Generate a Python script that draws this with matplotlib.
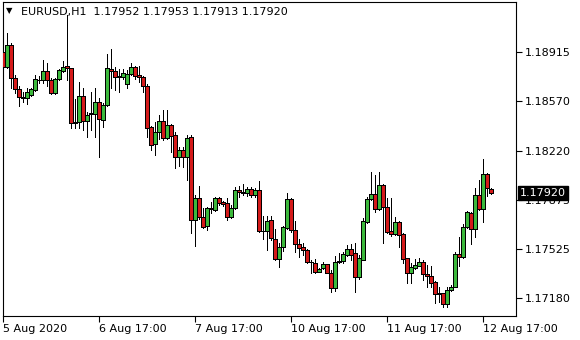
import matplotlib
matplotlib.use("Agg")
import matplotlib.pyplot as plt
import numpy as np

# EURUSD H1 candles, 5 Aug 17:00 -> 12 Aug 19:00
opens = [1.18915, 1.18809, 1.18964, 1.18732, 1.18654, 1.18598, 1.18591, 1.18612, 1.18647, 1.18721,
         1.18718, 1.18781, 1.18718, 1.18626, 1.18725, 1.18783, 1.18816, 1.18802, 1.18421, 1.18421,
         1.18605, 1.18429, 1.18485, 1.18478, 1.18563, 1.18436, 1.18541, 1.18795, 1.18781, 1.18746,
         1.18741, 1.18689, 1.18760, 1.18809, 1.18753, 1.18739, 1.18679, 1.18386, 1.18266, 1.18351,
         1.18429, 1.18309, 1.18400, 1.18330, 1.18175, 1.18224, 1.18173, 1.18314, 1.17731, 1.17886,
         1.17750, 1.17690, 1.17815, 1.17801, 1.17886, 1.17855, 1.17848, 1.17754, 1.17813, 1.17942,
         1.17926, 1.17923, 1.17949, 1.17907, 1.17942, 1.17655, 1.17655, 1.17731, 1.17594, 1.17456,
         1.17538, 1.17672, 1.17879, 1.17660, 1.17559, 1.17538, 1.17519, 1.17437, 1.17430, 1.17366,
         1.17390, 1.17418, 1.17359, 1.17249, 1.17444, 1.17444, 1.17484, 1.17524, 1.17496, 1.17331,
         1.17452, 1.17719, 1.17877, 1.17914, 1.17806, 1.17977, 1.17820, 1.17655, 1.17632, 1.17714,
         1.17630, 1.17461, 1.17359, 1.17390, 1.17408, 1.17432, 1.17350, 1.17338, 1.17291, 1.17214,
         1.17214, 1.17138, 1.17237, 1.17260, 1.17491, 1.17472, 1.17679, 1.17782, 1.17665, 1.17907,
         1.17806, 1.18055, 1.17952]
highs = [1.19000, 1.19049, 1.18978, 1.18753, 1.18675, 1.18633, 1.18661, 1.18661, 1.18753, 1.18746,
         1.18859, 1.18837, 1.18732, 1.18732, 1.18795, 1.18852, 1.19176, 1.18805, 1.18584, 1.18704,
         1.18661, 1.18492, 1.18633, 1.18661, 1.18591, 1.18555, 1.18901, 1.18936, 1.18809, 1.18795,
         1.18795, 1.18788, 1.18837, 1.18816, 1.18816, 1.18746, 1.18689, 1.18393, 1.18421, 1.18471,
         1.18506, 1.18506, 1.18407, 1.18351, 1.18245, 1.18247, 1.18330, 1.18330, 1.17907, 1.17970,
         1.17815, 1.17824, 1.17860, 1.17895, 1.17895, 1.17867, 1.17886, 1.17836, 1.17963, 1.17970,
         1.17984, 1.17963, 1.17963, 1.17956, 1.18006, 1.17759, 1.17759, 1.17759, 1.17665, 1.17566,
         1.17688, 1.17921, 1.17886, 1.17724, 1.17594, 1.17566, 1.17526, 1.17446, 1.17454, 1.17392,
         1.17432, 1.17420, 1.17378, 1.17477, 1.17500, 1.17505, 1.17554, 1.17561, 1.17566, 1.17484,
         1.17745, 1.17895, 1.18071, 1.18048, 1.18071, 1.17984, 1.17884, 1.17884, 1.17752, 1.17724,
         1.17639, 1.17463, 1.17427, 1.17456, 1.17463, 1.17449, 1.17413, 1.17406, 1.17298, 1.17260,
         1.17216, 1.17256, 1.17272, 1.17507, 1.17609, 1.17702, 1.17796, 1.17787, 1.17954, 1.18013,
         1.18158, 1.18059, 1.17953]
lows = [1.18704, 1.18802, 1.18661, 1.18626, 1.18534, 1.18562, 1.18548, 1.18605, 1.18640, 1.18696,
        1.18696, 1.18675, 1.18619, 1.18619, 1.18718, 1.18774, 1.18718, 1.18379, 1.18379, 1.18379,
        1.18365, 1.18316, 1.18365, 1.18316, 1.18175, 1.18386, 1.18534, 1.18661, 1.18647, 1.18633,
        1.18725, 1.18661, 1.18753, 1.18725, 1.18704, 1.18633, 1.18316, 1.18224, 1.18189, 1.18302,
        1.18295, 1.18302, 1.18210, 1.18097, 1.18111, 1.18104, 1.18013, 1.17641, 1.17549, 1.17738,
        1.17674, 1.17660, 1.17782, 1.17794, 1.17836, 1.17829, 1.17731, 1.17745, 1.17808, 1.17895,
        1.17907, 1.17900, 1.17895, 1.17895, 1.17648, 1.17594, 1.17519, 1.17590, 1.17449, 1.17401,
        1.17514, 1.17667, 1.17646, 1.17507, 1.17468, 1.17484, 1.17430, 1.17359, 1.17359, 1.17364,
        1.17385, 1.17357, 1.17225, 1.17232, 1.17427, 1.17427, 1.17480, 1.17449, 1.17225, 1.17312,
        1.17449, 1.17707, 1.17872, 1.17789, 1.17801, 1.17566, 1.17639, 1.17618, 1.17625, 1.17542,
        1.17425, 1.17284, 1.17286, 1.17385, 1.17403, 1.17308, 1.17260, 1.17256, 1.17148, 1.17155,
        1.17119, 1.17119, 1.17230, 1.17255, 1.17406, 1.17466, 1.17674, 1.17561, 1.17609, 1.17801,
        1.17719, 1.17900, 1.17913]
closes = [1.18809, 1.18964, 1.18732, 1.18654, 1.18598, 1.18591, 1.18633, 1.18654, 1.18725, 1.18718,
          1.18781, 1.18718, 1.18626, 1.18725, 1.18788, 1.18809, 1.18802, 1.18414, 1.18418, 1.18605,
          1.18429, 1.18471, 1.18478, 1.18563, 1.18443, 1.18541, 1.18802, 1.18778, 1.18739, 1.18739,
          1.18767, 1.18760, 1.18809, 1.18748, 1.18739, 1.18677, 1.18379, 1.18259, 1.18351, 1.18429,
          1.18311, 1.18400, 1.18325, 1.18175, 1.18224, 1.18173, 1.18309, 1.17731, 1.17886, 1.17750,
          1.17683, 1.17815, 1.17808, 1.17886, 1.17848, 1.17843, 1.17754, 1.17815, 1.17942, 1.17930,
          1.17919, 1.17949, 1.17907, 1.17942, 1.17655, 1.17653, 1.17724, 1.17602, 1.17456, 1.17538,
          1.17679, 1.17879, 1.17660, 1.17559, 1.17531, 1.17519, 1.17437, 1.17435, 1.17366, 1.17383,
          1.17418, 1.17359, 1.17249, 1.17437, 1.17432, 1.17491, 1.17524, 1.17484, 1.17331, 1.17461,
          1.17724, 1.17877, 1.17914, 1.17806, 1.17977, 1.17824, 1.17648, 1.17632, 1.17714, 1.17625,
          1.17454, 1.17359, 1.17397, 1.17413, 1.17432, 1.17348, 1.17338, 1.17289, 1.17209, 1.17207,
          1.17138, 1.17237, 1.17260, 1.17491, 1.17472, 1.17679, 1.17789, 1.17665, 1.17907, 1.17806,
          1.18055, 1.17954, 1.17920]

price_ticks = [1.18915, 1.18570, 1.18220, 1.17875, 1.17525, 1.17180]
time_tick_bars = [0, 24, 48, 72, 96, 120]
time_tick_labels = ['5 Aug 2020', '6 Aug 17:00', '7 Aug 17:00',
                    '10 Aug 17:00', '11 Aug 17:00', '12 Aug 17:00']
symbol = 'EURUSD,H1'
last_price = closes[-1]

W, H = 580, 340
fig = plt.figure(figsize=(W / 100, H / 100), dpi=100)
fig.set_facecolor('white')
ax = fig.add_axes([3 / W, 24.3 / H, 513 / W, 313.7 / H])

o = np.array(opens)
c = np.array(closes)
x = np.arange(len(o))
bull = c >= o
fill = np.where(bull, '#3cb93c', '#d41a1a')

# crisp, MT4-like pixels: no antialiasing on the candles
ax.vlines(x, lows, highs, color='black', linewidth=0.5, zorder=2, antialiased=False)
ax.bar(x, np.abs(c - o), bottom=np.minimum(o, c), width=0.78,
       color=fill, edgecolor='black', linewidth=0.5, zorder=3, antialiased=False)

ax.set_xlim(0, 513 / 4)
ax.set_ylim(1.17056, 1.19268)

for s in ax.spines.values():
    s.set_color('black')
    s.set_linewidth(0.8)

ax.yaxis.tick_right()
ax.set_yticks(price_ticks)
ax.set_yticklabels(['%.5f' % p for p in price_ticks])
ax.set_xticks(time_tick_bars)
ax.set_xticklabels(time_tick_labels)
for lbl in ax.get_xticklabels():
    lbl.set_ha('left')
ax.tick_params(axis='both', length=4, width=0.8, labelsize=8, pad=2, colors='black')

ax.annotate('%.5f' % last_price, xy=(1, last_price), xycoords=('axes fraction', 'data'),
            xytext=(3, 0), textcoords='offset points', ha='left', va='center',
            color='white', fontsize=8, zorder=10, annotation_clip=False,
            bbox=dict(boxstyle='square,pad=0.2', fc='black', ec='black'))

header = '%s  %.5f %.5f %.5f %.5f' % (symbol, opens[-1], highs[-1], lows[-1], closes[-1])
fig.text(6 / W, 1 - 11 / H, '\u25BC', fontsize=6, va='center', ha='left')
fig.text(21 / W, 1 - 12 / H, header, fontsize=8, va='center', ha='left')

fig.savefig('out.png', dpi=100, facecolor='white')
